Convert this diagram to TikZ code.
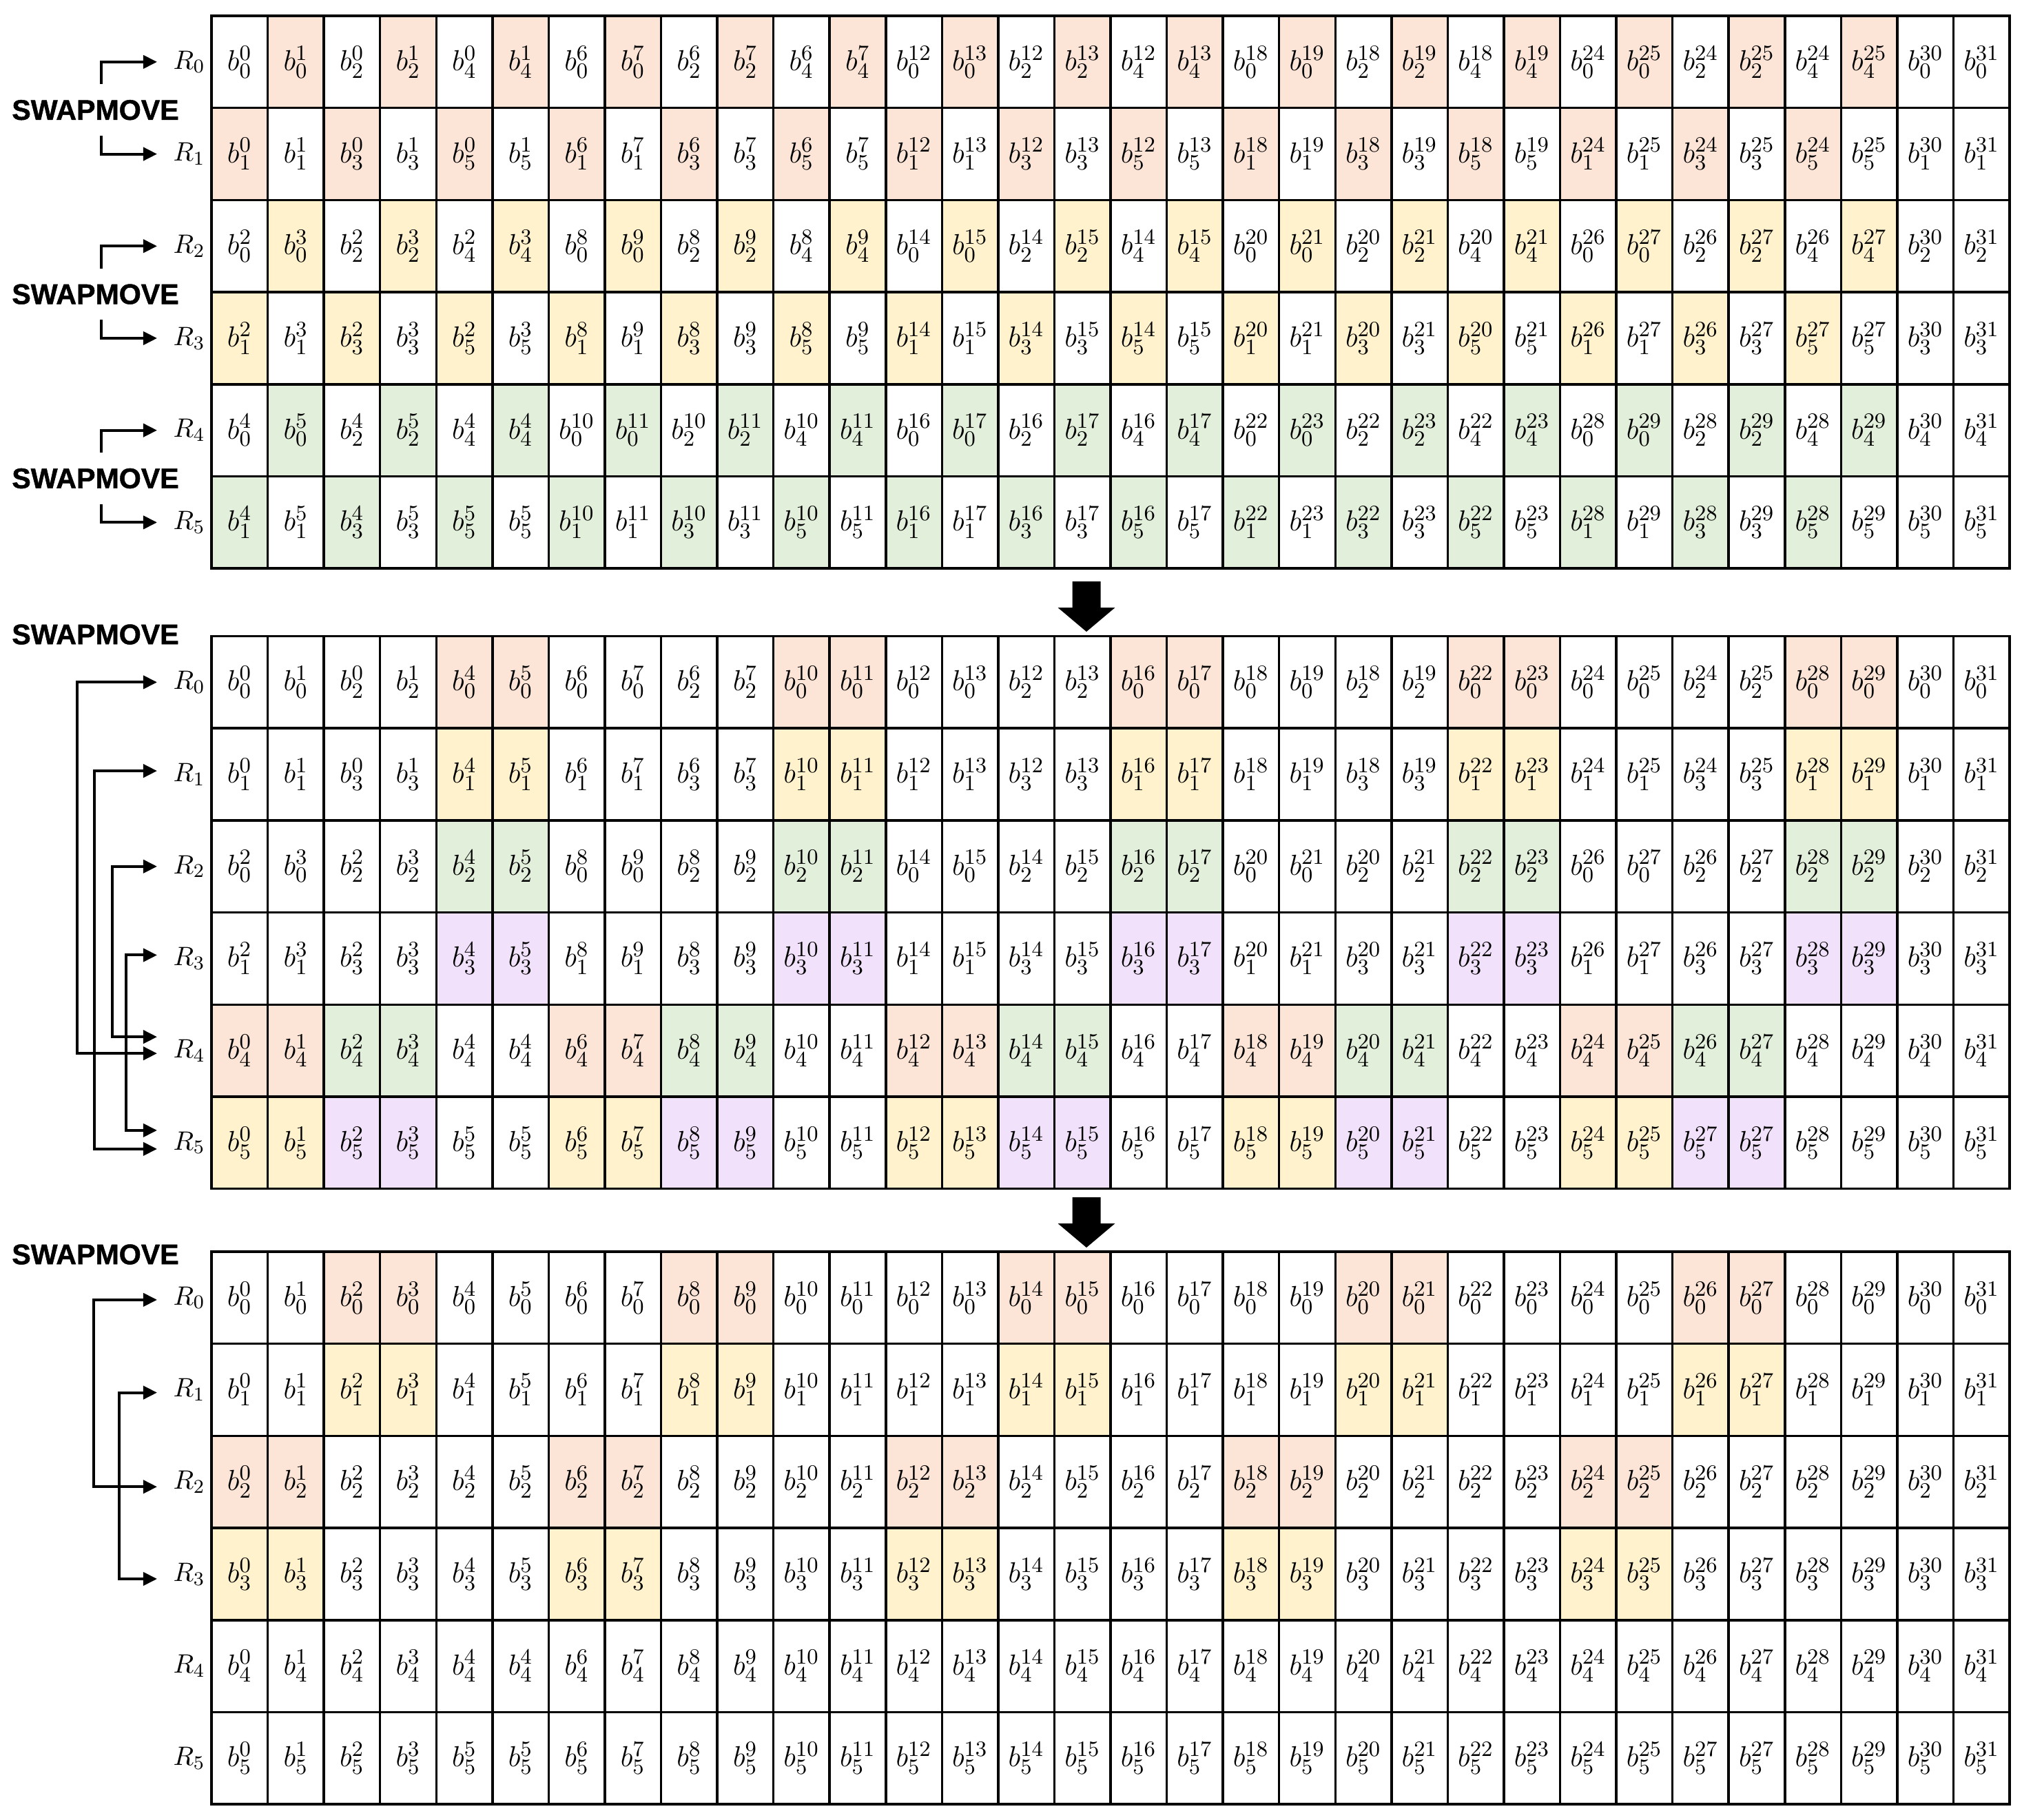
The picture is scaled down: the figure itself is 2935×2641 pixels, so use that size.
\documentclass[tikz,border=0pt]{standalone}
\usepackage{fontspec}
\newfontfamily\swfont{Liberation Sans}[BoldFeatures={FakeBold=1.2}]
\usetikzlibrary{arrows.meta}
\definecolor{cn}{HTML}{FFFFFF}
\definecolor{cp}{HTML}{FCE4D6}
\definecolor{cy}{HTML}{FFF2CC}
\definecolor{cg}{HTML}{E2EFDA}
\definecolor{cu}{HTML}{F2E1FA}
\tikzset{
  celltxt/.style={inner sep=0pt,font=\fontsize{12.8}{15}\selectfont},
  gridline/.style={draw=black,line width=0.035cm},
  rlab/.style={anchor=west,inner xsep=0.23cm,inner ysep=0pt,font=\fontsize{11}{13}\selectfont},
  swlab/.style={inner sep=0pt,font=\fontsize{11.7}{14}\selectfont\swfont\bfseries},
  arr/.style={line width=0.04cm,-{Triangle[length=0.2cm,width=0.19cm]}},
  darr/.style={line width=0.04cm,{Triangle[length=0.2cm,width=0.19cm]}-{Triangle[length=0.2cm,width=0.19cm]}},
  bigarr/.style={fill=black}
}
\newcommand\cellrow[4]{%
  \foreach \s/\p/\c [count=\i from 0] in {#4}{%
    \fill[\c] ({307+81.5625*\i},{#3+133.7*#2}) rectangle ++(81.5625,133.7);
    \node[celltxt] (c#1-#2-\i) at ({307+81.5625*(\i+0.5)},{#3+133.7*(#2+0.5)}) {$b_{\s}^{\p}$};}}
\newcommand\blockgrid[1]{%
  \foreach \i in {1,...,31}{\draw[gridline] ({307+81.5625*\i},#1) -- ++(0,802.2);}
  \foreach \j in {1,...,5}{\draw[gridline] (307,{#1+133.7*\j}) -- ++(2610,0);}
  \draw[gridline] (307,#1) rectangle ++(2610,802.2);}
\begin{document}
\begin{tikzpicture}[x=0.01cm,y=-0.01cm]
\fill[white] (0,0) rectangle (2935,2641);
\useasboundingbox (0,0) rectangle (2935,2641);

% ---------------- block 1 ----------------
\cellrow{1}{0}{23}{0/0/cn,0/1/cp,2/0/cn,2/1/cp,4/0/cn,4/1/cp,0/6/cn,0/7/cp,2/6/cn,2/7/cp,4/6/cn,4/7/cp,0/12/cn,0/13/cp,2/12/cn,2/13/cp,4/12/cn,4/13/cp,0/18/cn,0/19/cp,2/18/cn,2/19/cp,4/18/cn,4/19/cp,0/24/cn,0/25/cp,2/24/cn,2/25/cp,4/24/cn,4/25/cp,0/30/cn,0/31/cn}
\cellrow{1}{1}{23}{1/0/cp,1/1/cn,3/0/cp,3/1/cn,5/0/cp,5/1/cn,1/6/cp,1/7/cn,3/6/cp,3/7/cn,5/6/cp,5/7/cn,1/12/cp,1/13/cn,3/12/cp,3/13/cn,5/12/cp,5/13/cn,1/18/cp,1/19/cn,3/18/cp,3/19/cn,5/18/cp,5/19/cn,1/24/cp,1/25/cn,3/24/cp,3/25/cn,5/24/cp,5/25/cn,1/30/cn,1/31/cn}
\cellrow{1}{2}{23}{0/2/cn,0/3/cy,2/2/cn,2/3/cy,4/2/cn,4/3/cy,0/8/cn,0/9/cy,2/8/cn,2/9/cy,4/8/cn,4/9/cy,0/14/cn,0/15/cy,2/14/cn,2/15/cy,4/14/cn,4/15/cy,0/20/cn,0/21/cy,2/20/cn,2/21/cy,4/20/cn,4/21/cy,0/26/cn,0/27/cy,2/26/cn,2/27/cy,4/26/cn,4/27/cy,2/30/cn,2/31/cn}
\cellrow{1}{3}{23}{1/2/cy,1/3/cn,3/2/cy,3/3/cn,5/2/cy,5/3/cn,1/8/cy,1/9/cn,3/8/cy,3/9/cn,5/8/cy,5/9/cn,1/14/cy,1/15/cn,3/14/cy,3/15/cn,5/14/cy,5/15/cn,1/20/cy,1/21/cn,3/20/cy,3/21/cn,5/20/cy,5/21/cn,1/26/cy,1/27/cn,3/26/cy,3/27/cn,5/27/cy,5/27/cn,3/30/cn,3/31/cn}
\cellrow{1}{4}{23}{0/4/cn,0/5/cg,2/4/cn,2/5/cg,4/4/cn,4/4/cg,0/10/cn,0/11/cg,2/10/cn,2/11/cg,4/10/cn,4/11/cg,0/16/cn,0/17/cg,2/16/cn,2/17/cg,4/16/cn,4/17/cg,0/22/cn,0/23/cg,2/22/cn,2/23/cg,4/22/cn,4/23/cg,0/28/cn,0/29/cg,2/28/cn,2/29/cg,4/28/cn,4/29/cg,4/30/cn,4/31/cn}
\cellrow{1}{5}{23}{1/4/cg,1/5/cn,3/4/cg,3/5/cn,5/5/cg,5/5/cn,1/10/cg,1/11/cn,3/10/cg,3/11/cn,5/10/cg,5/11/cn,1/16/cg,1/17/cn,3/16/cg,3/17/cn,5/16/cg,5/17/cn,1/22/cg,1/23/cn,3/22/cg,3/23/cn,5/22/cg,5/23/cn,1/28/cg,1/29/cn,3/28/cg,3/29/cn,5/28/cg,5/29/cn,5/30/cn,5/31/cn}
\blockgrid{23}

% ---------------- block 2 ----------------
\cellrow{2}{0}{923.5}{0/0/cn,0/1/cn,2/0/cn,2/1/cn,0/4/cp,0/5/cp,0/6/cn,0/7/cn,2/6/cn,2/7/cn,0/10/cp,0/11/cp,0/12/cn,0/13/cn,2/12/cn,2/13/cn,0/16/cp,0/17/cp,0/18/cn,0/19/cn,2/18/cn,2/19/cn,0/22/cp,0/23/cp,0/24/cn,0/25/cn,2/24/cn,2/25/cn,0/28/cp,0/29/cp,0/30/cn,0/31/cn}
\cellrow{2}{1}{923.5}{1/0/cn,1/1/cn,3/0/cn,3/1/cn,1/4/cy,1/5/cy,1/6/cn,1/7/cn,3/6/cn,3/7/cn,1/10/cy,1/11/cy,1/12/cn,1/13/cn,3/12/cn,3/13/cn,1/16/cy,1/17/cy,1/18/cn,1/19/cn,3/18/cn,3/19/cn,1/22/cy,1/23/cy,1/24/cn,1/25/cn,3/24/cn,3/25/cn,1/28/cy,1/29/cy,1/30/cn,1/31/cn}
\cellrow{2}{2}{923.5}{0/2/cn,0/3/cn,2/2/cn,2/3/cn,2/4/cg,2/5/cg,0/8/cn,0/9/cn,2/8/cn,2/9/cn,2/10/cg,2/11/cg,0/14/cn,0/15/cn,2/14/cn,2/15/cn,2/16/cg,2/17/cg,0/20/cn,0/21/cn,2/20/cn,2/21/cn,2/22/cg,2/23/cg,0/26/cn,0/27/cn,2/26/cn,2/27/cn,2/28/cg,2/29/cg,2/30/cn,2/31/cn}
\cellrow{2}{3}{923.5}{1/2/cn,1/3/cn,3/2/cn,3/3/cn,3/4/cu,3/5/cu,1/8/cn,1/9/cn,3/8/cn,3/9/cn,3/10/cu,3/11/cu,1/14/cn,1/15/cn,3/14/cn,3/15/cn,3/16/cu,3/17/cu,1/20/cn,1/21/cn,3/20/cn,3/21/cn,3/22/cu,3/23/cu,1/26/cn,1/27/cn,3/26/cn,3/27/cn,3/28/cu,3/29/cu,3/30/cn,3/31/cn}
\cellrow{2}{4}{923.5}{4/0/cp,4/1/cp,4/2/cg,4/3/cg,4/4/cn,4/4/cn,4/6/cp,4/7/cp,4/8/cg,4/9/cg,4/10/cn,4/11/cn,4/12/cp,4/13/cp,4/14/cg,4/15/cg,4/16/cn,4/17/cn,4/18/cp,4/19/cp,4/20/cg,4/21/cg,4/22/cn,4/23/cn,4/24/cp,4/25/cp,4/26/cg,4/27/cg,4/28/cn,4/29/cn,4/30/cn,4/31/cn}
\cellrow{2}{5}{923.5}{5/0/cy,5/1/cy,5/2/cu,5/3/cu,5/5/cn,5/5/cn,5/6/cy,5/7/cy,5/8/cu,5/9/cu,5/10/cn,5/11/cn,5/12/cy,5/13/cy,5/14/cu,5/15/cu,5/16/cn,5/17/cn,5/18/cy,5/19/cy,5/20/cu,5/21/cu,5/22/cn,5/23/cn,5/24/cy,5/25/cy,5/27/cu,5/27/cu,5/28/cn,5/29/cn,5/30/cn,5/31/cn}
\blockgrid{923.5}

% ---------------- block 3 ----------------
\cellrow{3}{0}{1817}{0/0/cn,0/1/cn,0/2/cp,0/3/cp,0/4/cn,0/5/cn,0/6/cn,0/7/cn,0/8/cp,0/9/cp,0/10/cn,0/11/cn,0/12/cn,0/13/cn,0/14/cp,0/15/cp,0/16/cn,0/17/cn,0/18/cn,0/19/cn,0/20/cp,0/21/cp,0/22/cn,0/23/cn,0/24/cn,0/25/cn,0/26/cp,0/27/cp,0/28/cn,0/29/cn,0/30/cn,0/31/cn}
\cellrow{3}{1}{1817}{1/0/cn,1/1/cn,1/2/cy,1/3/cy,1/4/cn,1/5/cn,1/6/cn,1/7/cn,1/8/cy,1/9/cy,1/10/cn,1/11/cn,1/12/cn,1/13/cn,1/14/cy,1/15/cy,1/16/cn,1/17/cn,1/18/cn,1/19/cn,1/20/cy,1/21/cy,1/22/cn,1/23/cn,1/24/cn,1/25/cn,1/26/cy,1/27/cy,1/28/cn,1/29/cn,1/30/cn,1/31/cn}
\cellrow{3}{2}{1817}{2/0/cp,2/1/cp,2/2/cn,2/3/cn,2/4/cn,2/5/cn,2/6/cp,2/7/cp,2/8/cn,2/9/cn,2/10/cn,2/11/cn,2/12/cp,2/13/cp,2/14/cn,2/15/cn,2/16/cn,2/17/cn,2/18/cp,2/19/cp,2/20/cn,2/21/cn,2/22/cn,2/23/cn,2/24/cp,2/25/cp,2/26/cn,2/27/cn,2/28/cn,2/29/cn,2/30/cn,2/31/cn}
\cellrow{3}{3}{1817}{3/0/cy,3/1/cy,3/2/cn,3/3/cn,3/4/cn,3/5/cn,3/6/cy,3/7/cy,3/8/cn,3/9/cn,3/10/cn,3/11/cn,3/12/cy,3/13/cy,3/14/cn,3/15/cn,3/16/cn,3/17/cn,3/18/cy,3/19/cy,3/20/cn,3/21/cn,3/22/cn,3/23/cn,3/24/cy,3/25/cy,3/26/cn,3/27/cn,3/28/cn,3/29/cn,3/30/cn,3/31/cn}
\cellrow{3}{4}{1817}{4/0/cn,4/1/cn,4/2/cn,4/3/cn,4/4/cn,4/4/cn,4/6/cn,4/7/cn,4/8/cn,4/9/cn,4/10/cn,4/11/cn,4/12/cn,4/13/cn,4/14/cn,4/15/cn,4/16/cn,4/17/cn,4/18/cn,4/19/cn,4/20/cn,4/21/cn,4/22/cn,4/23/cn,4/24/cn,4/25/cn,4/26/cn,4/27/cn,4/28/cn,4/29/cn,4/30/cn,4/31/cn}
\cellrow{3}{5}{1817}{5/0/cn,5/1/cn,5/2/cn,5/3/cn,5/5/cn,5/5/cn,5/6/cn,5/7/cn,5/8/cn,5/9/cn,5/10/cn,5/11/cn,5/12/cn,5/13/cn,5/14/cn,5/15/cn,5/16/cn,5/17/cn,5/18/cn,5/19/cn,5/20/cn,5/21/cn,5/22/cn,5/23/cn,5/24/cn,5/25/cn,5/27/cn,5/27/cn,5/28/cn,5/29/cn,5/30/cn,5/31/cn}
\blockgrid{1817}

% ---------------- row labels ----------------
\foreach \r in {0,...,5}{
  \node[rlab] (l1-\r) at (228,{23+133.7*(\r+0.5)}) {$R_{\r}$};
  \node[rlab] (l2-\r) at (228,{923.5+133.7*(\r+0.5)}) {$R_{\r}$};
  \node[rlab] (l3-\r) at (228,{1817+133.7*(\r+0.5)}) {$R_{\r}$};
}

% ---------------- SWAPMOVE labels ----------------
\node[swlab] (sw1-0) at (138.5,{23+133.7*1+3}) {SWAPMOVE};
\node[swlab] (sw1-1) at (138.5,{23+133.7*3+3}) {SWAPMOVE};
\node[swlab] (sw1-2) at (138.5,{23+133.7*5+3}) {SWAPMOVE};
\node[swlab] (sw2) at (138.5,921) {SWAPMOVE};
\node[swlab] (sw3) at (138.5,1821) {SWAPMOVE};

% block 1 arrows
\foreach \k/\a/\b in {0/0/1,1/2/3,2/4/5}{
  \draw[arr] ([xshift=0.085cm,yshift=0.22cm]sw1-\k.north) |- (l1-\a.west);
  \draw[arr] ([xshift=0.085cm,yshift=-0.22cm]sw1-\k.south) |- (l1-\b.west);
}

% block 2 arrows
\coordinate (b2-0) at (112,0);
\coordinate (b2-1) at (137,0);
\coordinate (b2-2) at (163,0);
\coordinate (b2-3) at (183,0);
\coordinate (e2-0) at (l2-0.west);
\coordinate (e2-1) at ([yshift=0.05cm]l2-1.west);
\coordinate (e2-2) at (l2-2.west);
\coordinate (e2-3) at ([yshift=0.05cm]l2-3.west);
\coordinate (e2-4a) at ([yshift=-0.04cm]l2-4.west);
\coordinate (e2-4b) at ([yshift=0.2cm]l2-4.west);
\coordinate (e2-5a) at ([yshift=-0.09cm]l2-5.west);
\coordinate (e2-5b) at ([yshift=0.18cm]l2-5.west);
\draw[darr] (e2-0) -| (b2-0 |- e2-4a) -- (e2-4a);
\draw[darr] (e2-1) -| (b2-1 |- e2-5a) -- (e2-5a);
\draw[darr] (e2-2) -| (b2-2 |- e2-4b) -- (e2-4b);
\draw[darr] (e2-3) -| (b2-3 |- e2-5b) -- (e2-5b);

% block 3 arrows
\coordinate (b3-0) at (136,0);
\coordinate (b3-1) at (173,0);
\coordinate (e3-0) at ([yshift=-0.03cm]l3-0.west);
\coordinate (e3-1) at ([yshift=-0.04cm]l3-1.west);
\coordinate (e3-2) at ([yshift=-0.07cm]l3-2.west);
\coordinate (e3-3) at ([yshift=-0.07cm]l3-3.west);
\draw[darr] (e3-0) -| (b3-0 |- e3-2) -- (e3-2);
\draw[darr] (e3-1) -| (b3-1 |- e3-3) -- (e3-3);

% big arrows between blocks
\fill[bigarr] (1556.5,844) -- (1597.5,844) -- (1597.5,882) -- (1618.5,882) -- (1577,917) -- (1535.5,882) -- (1556.5,882) -- cycle;
\fill[bigarr] (1556.5,1738) -- (1597.5,1738) -- (1597.5,1776) -- (1618.5,1776) -- (1577,1811) -- (1535.5,1776) -- (1556.5,1776) -- cycle;
\end{tikzpicture}
\end{document}
